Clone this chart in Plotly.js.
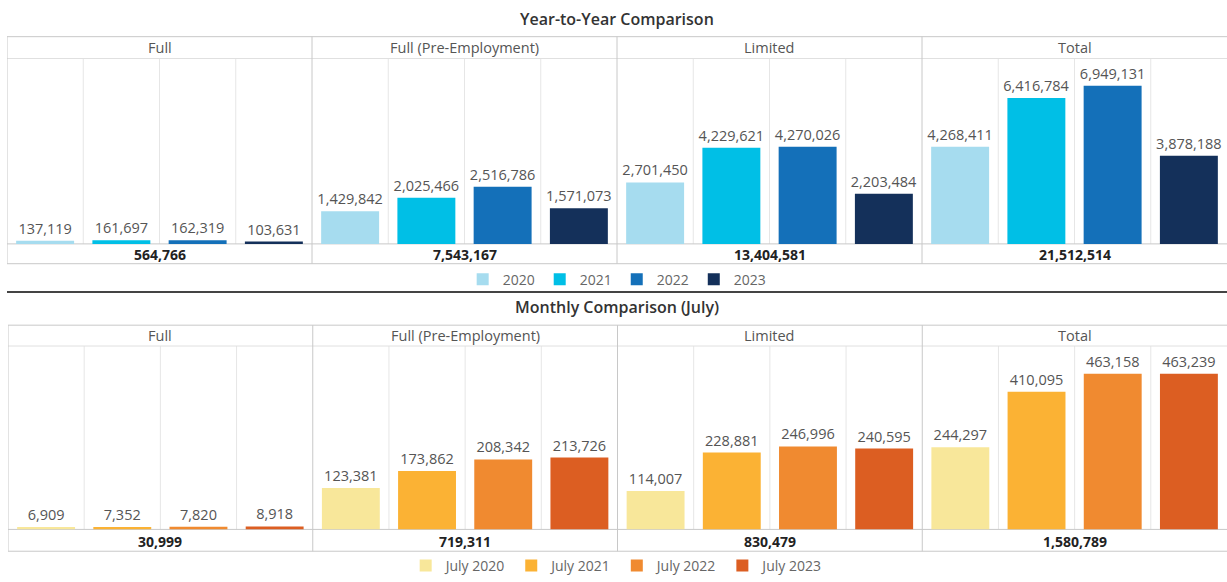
<!DOCTYPE html>
<html><head><meta charset="utf-8">
<script src="https://cdn.plot.ly/plotly-3.0.1.min.js"></script>
<style>html,body{margin:0;padding:0;background:#fff;} #chart{width:1227px;height:582px;}</style>
</head><body><div id="chart"></div>
<script>
// ---- data ----
const panels = ["Full", "Full (Pre-Employment)", "Limited", "Total"];
const yearNames = ["2020", "2021", "2022", "2023"];
const monthNames = ["July 2020", "July 2021", "July 2022", "July 2023"];
const y2020 = [137119, 1429842, 2701450, 4268411];
const y2021 = [161697, 2025466, 4229621, 6416784];
const y2022 = [162319, 2516786, 4270026, 6949131];
const y2023 = [103631, 1571073, 2203484, 3878188];
const jul2020 = [6909, 123381, 114007, 244297];
const jul2021 = [7352, 173862, 228881, 410095];
const jul2022 = [7820, 208342, 246996, 463158];
const jul2023 = [8918, 213726, 240595, 463239];
const yearColors = ["#a6dcef", "#00bfe6", "#1470b9", "#14305a"];
const julyColors = ["#f8e79a", "#fbb234", "#f08a30", "#dc5e22"];

// ---- layout helpers ----
const W = 1227, H = 582;
const py = v => 1 - v / H;
const px = v => v / W;
const FONT = "Open Sans, Noto Sans, sans-serif";
const fmt = v => v.toLocaleString("en-US");

const sections = [
  {title: "Year-to-Year Comparison", names: yearNames, series: [y2020, y2021, y2022, y2023], colors: yearColors,
   xa: "x", ya: "y", lg: "legend", left: 7, headerTop: 37, plotTop: 59, plotBottom: 246, totBottom: 266,
   legendY: 281, titleY: 18, yMax: 8.15e6},
  {title: "Monthly Comparison (July)", names: monthNames, series: [jul2020, jul2021, jul2022, jul2023], colors: julyColors,
   xa: "x2", ya: "y2", lg: "legend2", left: 8, headerTop: 328, plotTop: 349, plotBottom: 534, totBottom: 556,
   legendY: 570, titleY: 309, yMax: 5.46e5}
];

const traces = [], shapes = [], annotations = [];
const layout = {
  width: W, height: H, margin: {l: 0, r: 0, t: 0, b: 0},
  paper_bgcolor: "#fff", plot_bgcolor: "rgba(0,0,0,0)",
  barmode: "overlay", hovermode: false, font: {family: FONT, color: "#555"}
};

sections.forEach((s, si) => {
  const axSuffix = si === 0 ? "" : "2";
  layout["xaxis" + axSuffix] = {domain: [px(s.left), 1], range: [-0.5, 15.5], visible: false, fixedrange: true,
    anchor: "y" + axSuffix};
  layout["yaxis" + axSuffix] = {domain: [py(s.plotBottom), py(s.plotTop)], range: [0, s.yMax], visible: false,
    fixedrange: true, anchor: "x" + axSuffix};
  layout[s.lg] = {orientation: "h", x: 0.503, xanchor: "center", y: py(s.legendY + 1), yanchor: "middle",
    font: {size: 14, color: "#666", family: FONT}, bgcolor: "rgba(0,0,0,0)", itemclick: false, itemdoubleclick: false,
    traceorder: "normal"};

  s.series.forEach((vals, i) => {
    traces.push({
      type: "bar", name: s.names[i], legend: s.lg, xaxis: s.xa, yaxis: s.ya,
      x: vals.map((v, p) => p * 4 + i), y: vals, width: 0.76,
      marker: {color: s.colors[i], line: {width: 0}},
      text: vals.map(fmt), textposition: "outside", cliponaxis: false, constraintext: "none",
      textfont: {size: 14.5, color: "#555", family: FONT}, showlegend: true
    });
  });

  const line = (x0, x1, y0, y1, color, w) => shapes.push({type: "line", xref: s.xa, yref: "paper",
    x0, x1, y0: py(y0), y1: py(y1), line: {color, width: w || 1}, layer: "below"});

  // inner gridlines
  panels.forEach((p, pi) => {
    for (let k = 0; k < 3; k++) {
      const gx = pi * 4 + k + 0.5;
      line(gx, gx, s.plotTop, s.plotBottom, "#e6e6e6");
    }
  });
  // header bottom and plot bottom
  line(-0.5, 15.5, s.plotTop, s.plotTop, "#e0e0e0");
  line(-0.5, 15.5, s.plotBottom, s.plotBottom, "#c8c8c8");
  // outer box
  line(-0.5, 15.5, s.headerTop, s.headerTop, "#c8c8c8");
  line(-0.5, 15.5, s.totBottom, s.totBottom, "#c8c8c8");
  line(-0.5, -0.5, s.headerTop, s.totBottom, "#c8c8c8");
  // panel separators
  [3.5, 7.5, 11.5].forEach(xv => line(xv, xv, s.headerTop, s.totBottom, "#c8c8c8"));

  // headers & totals
  panels.forEach((p, pi) => {
    annotations.push({xref: s.xa, yref: "paper", x: pi * 4 + 1.5, y: py((s.headerTop + s.plotTop) / 2),
      text: p, showarrow: false, font: {size: 14.5, color: "#555", family: FONT}, xanchor: "center", yanchor: "middle"});
    const tot = s.series.reduce((a, arr) => a + arr[pi], 0);
    annotations.push({xref: s.xa, yref: "paper", x: pi * 4 + 1.5, y: py((s.plotBottom + s.totBottom) / 2 + 1),
      text: "<b>" + fmt(tot) + "</b>", showarrow: false, font: {size: 14, color: "#222", family: FONT},
      xanchor: "center", yanchor: "middle"});
  });
  // title
  annotations.push({xref: "paper", yref: "paper", x: px(617), y: py(s.titleY + 1), text: s.title,
    showarrow: false, font: {size: 16, color: "#333", family: FONT, weight: 600}, xanchor: "center", yanchor: "middle"});
});

// section separator
shapes.push({type: "line", xref: "paper", yref: "paper", x0: px(7), x1: 1, y0: py(294.5), y1: py(294.5),
  line: {color: "#444", width: 2}});

layout.shapes = shapes;
layout.annotations = annotations;
Plotly.newPlot("chart", traces, layout, {displayModeBar: false, staticPlot: true});
</script>
</body></html>
